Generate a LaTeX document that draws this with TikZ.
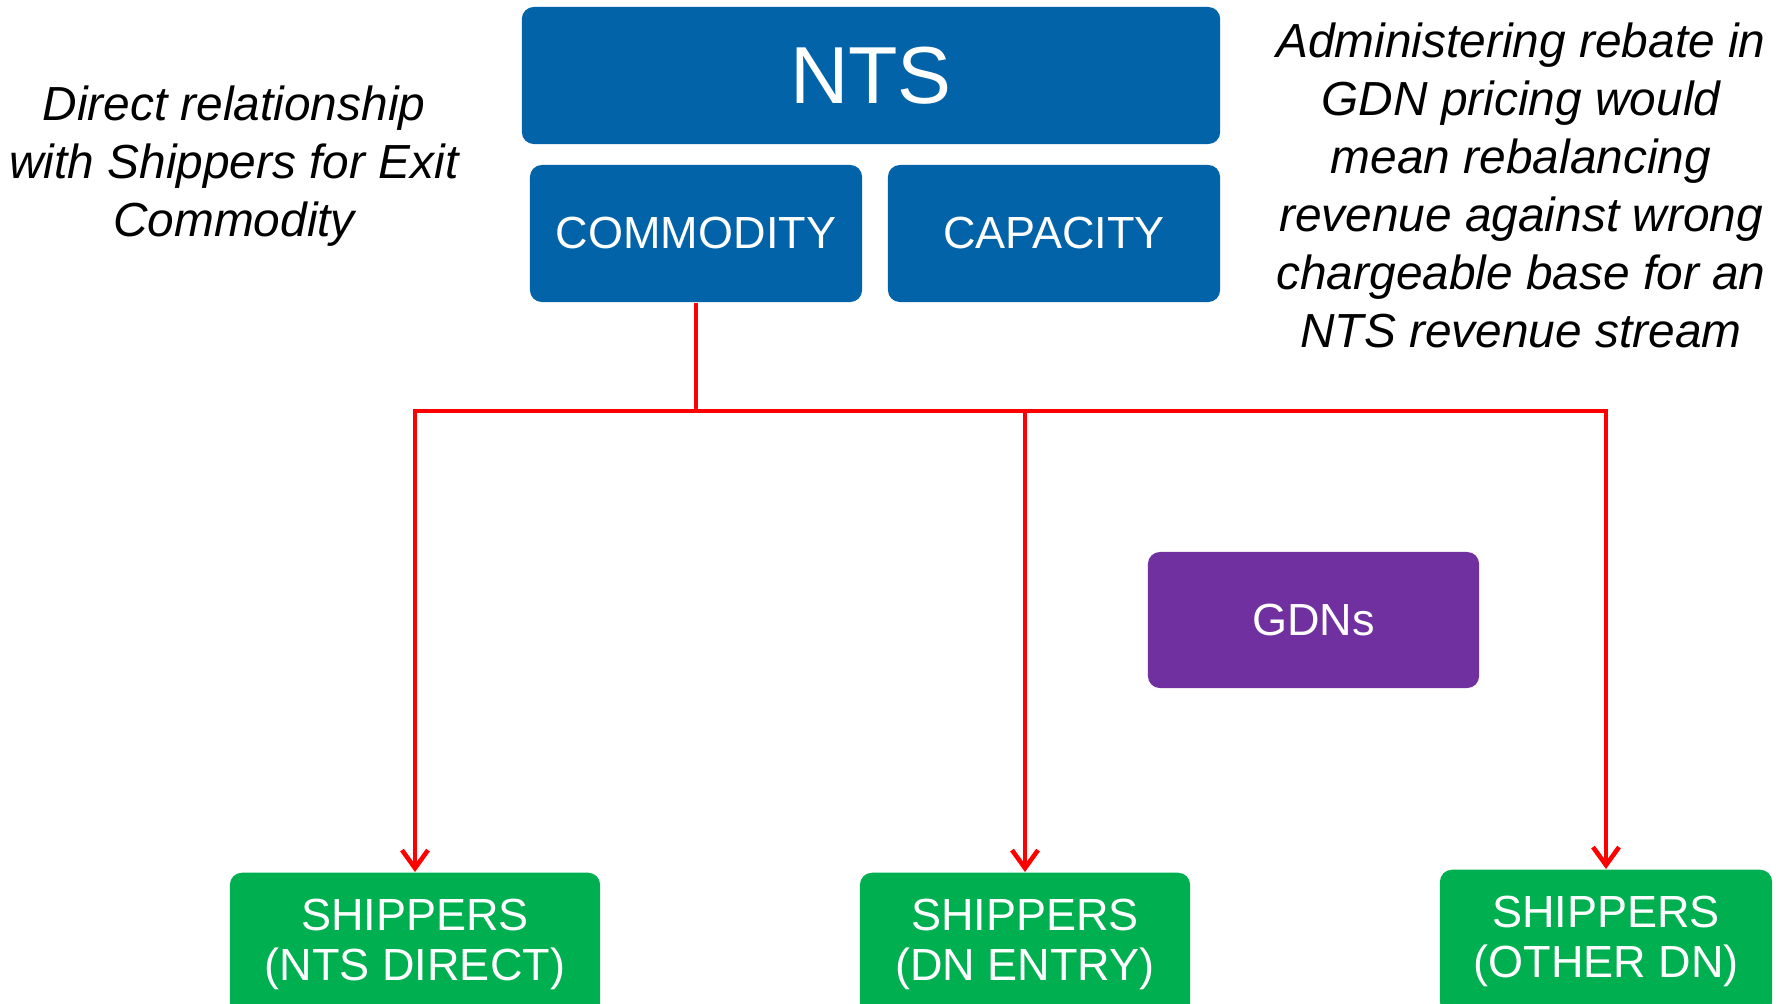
\documentclass[tikz,border=0pt]{standalone}
\usepackage{fontspec}
\setmainfont{Liberation Sans}
\usetikzlibrary{arrows.meta}
\definecolor{ntsblue}{RGB}{2,99,168}
\definecolor{shipgreen}{RGB}{0,176,80}
\definecolor{gdnpurple}{RGB}{112,48,160}
\begin{document}
\begin{tikzpicture}[x=0.01cm,y=-0.01cm,
  box/.style={rounded corners=0.12cm,text=white,align=center,inner sep=0pt,
    minimum height=1.37cm,font=\fontsize{12.8}{14.2}\selectfont},
  charge/.style={box,fill=ntsblue,minimum width=3.32cm},
  shipper/.style={box,fill=shipgreen,anchor=north,minimum height=1.44cm},
  note/.style={align=center,font=\itshape\fontsize{13.6}{16.5}\selectfont},
  feed/.style={red,line width=1.3pt},
  tip/.style={-{Straight Barb[length=1.8mm,width=2.6mm]}}]
  \useasboundingbox (0,0) rectangle (1786,1003);
  \clip (0,0) rectangle (1786,1003);
  \node[box,fill=ntsblue,minimum width=6.98cm,font=\fontsize{23}{26}\selectfont] (nts) at (871,75.5) {NTS};
  \node[charge] (com) at (696,233.5) {COMMODITY};
  \node[charge] (cap) at (1054,233.5) {CAPACITY};
  \node[box,fill=gdnpurple,minimum width=3.31cm,minimum height=1.36cm] (gdn) at (1313.5,620) {GDNs};
  \node[shipper,minimum width=3.70cm] (shipA) at (415,872) {SHIPPERS\\(NTS DIRECT)};
  \node[shipper,minimum width=3.30cm] (shipB) at (1025,872) {SHIPPERS\\(DN ENTRY)};
  \node[shipper,minimum width=3.32cm] (shipC) at (1606,869) {SHIPPERS\\(OTHER DN)};
  \node[note] (direct) at (234,166.5) {Direct relationship\\with Shippers for Exit\\Commodity};
  \node[note] (rebate) at (1521,185) {Administering rebate in\\GDN pricing would\\mean rebalancing\\revenue against wrong\\chargeable base for an\\NTS revenue stream};
  \coordinate (split) at (696,411);
  \draw[feed] (com.south) -- (split);
  \draw[feed,tip] (split) -| (shipA.north);
  \draw[feed,tip] (split) -| (shipB.north);
  \draw[feed,tip] (split) -| (shipC.north);
\end{tikzpicture}
\end{document}
